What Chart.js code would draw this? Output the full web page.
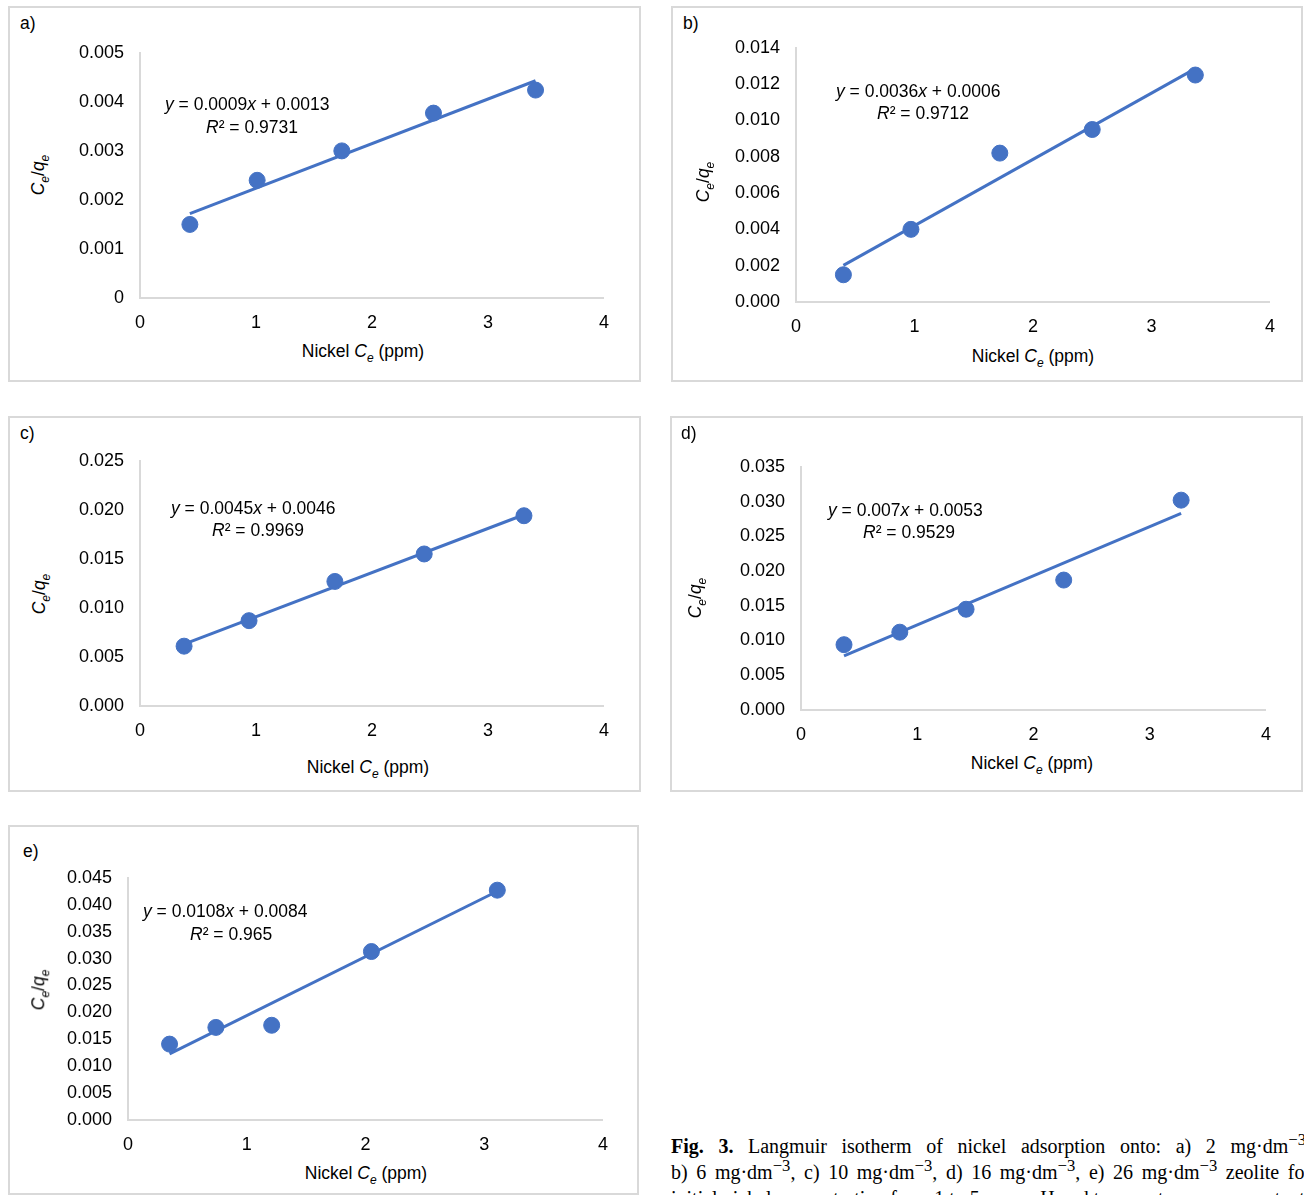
<!DOCTYPE html>
<html><head><meta charset="utf-8">
<script src="https://cdn.jsdelivr.net/npm/chart.js@4/dist/chart.umd.min.js"></script>
<style>
body{margin:0;background:#fff;font-family:"Liberation Sans",Arial,sans-serif;color:#000;overflow:hidden;}
.box{position:absolute;border:2px solid #d9d9d9;box-sizing:border-box;}
.t{position:absolute;font-size:17.5px;white-space:nowrap;}
canvas{position:absolute;}
.cap{position:absolute;left:671px;top:1133px;width:640px;font-family:"Liberation Serif",serif;font-size:20px;line-height:26px;text-align:justify;}
.nb{white-space:nowrap;}
</style></head><body>
<script>
const labels=["a)","b)","c)","d)","e)"];
const xA=[0.43,1.01,1.74,2.53,3.41], yA=[0.0015,0.0024,0.0030,0.00377,0.00424];
const xB=[0.40,0.97,1.72,2.50,3.37], yB=[0.0015,0.0040,0.0082,0.0095,0.0125];
const xC=[0.38,0.94,1.68,2.45,3.31], yC=[0.0061,0.0087,0.0127,0.0155,0.0194];
const xD=[0.37,0.85,1.42,2.26,3.27], yD=[0.0094,0.0112,0.0145,0.0187,0.0302];
const xE=[0.35,0.74,1.21,2.05,3.11], yE=[0.0141,0.0172,0.0176,0.0313,0.0427];
const trendA=[0.00172,0.00443], trendB=[0.00202,0.01285], trendC=[0.0063,0.0195], trendD=[0.0078,0.0283], trendE=[0.0123,0.0425];
const eqs=["0.0009x + 0.0013","0.0036x + 0.0006","0.0045x + 0.0046","0.007x + 0.0053","0.0108x + 0.0084"];
const r2=["0.9731","0.9712","0.9969","0.9529","0.965"];
const yMax=[0.005,0.014,0.025,0.035,0.045], yStep=[0.001,0.002,0.005,0.005,0.005];
const xs=[xA,xB,xC,xD,xE], ys=[yA,yB,yC,yD,yE], trends=[trendA,trendB,trendC,trendD,trendE];
const L=[
 {box:[8,6,641,382],plot:[140,604,51,298],lab:[20,13],eq:[165,94],r:[206,117],xt:[363,353],yt:[40,175]},
 {box:[671,6,1303,382],plot:[796,1270,46,302],lab:[683,13],eq:[836,81],r:[877,103],xt:[1033,358],yt:[705,182]},
 {box:[8,416,641,792],plot:[140,604,459,706],lab:[20,423],eq:[171,498],r:[212,520],xt:[368,769],yt:[41,594]},
 {box:[670,416,1303,792],plot:[801,1266,465,710],lab:[681,423],eq:[828,500],r:[863,522],xt:[1032,765],yt:[697,598]},
 {box:[8,825,639,1195],plot:[128,603,876,1120],lab:[23,841],eq:[143,901],r:[190,924],xt:[366,1175],yt:[40,990]}
];
const col="#4472C4";
function el(tag,cls,html,css){const e=document.createElement(tag);if(cls)e.className=cls;e.innerHTML=html;Object.assign(e.style,css);document.body.appendChild(e);return e;}
L.forEach((p,i)=>{
 const [bl,bt,br,bb]=p.box;
 el("div","box","",{left:bl+"px",top:bt+"px",width:(br-bl)+"px",height:(bb-bt)+"px"});
 const YW=70, XH=36;
 const [x0,x4,yt,y0]=p.plot;
 const cv=document.createElement("canvas");
 const cl=x0-YW-10, ct=yt-25, cw=x4-cl+19, ch=y0-ct+XH+2;
 cv.style.left=cl+"px";cv.style.top=ct+"px";cv.style.width=cw+"px";cv.style.height=ch+"px";
 cv.width=cw;cv.height=ch;
 document.body.appendChild(cv);
 const dec=i===0?null:3;
 new Chart(cv,{type:"scatter",data:{datasets:[
  {type:"line",data:[{x:xs[i][0],y:trends[i][0]},{x:xs[i][4],y:trends[i][1]}],borderColor:col,borderWidth:3,pointRadius:0,order:2},
  {data:xs[i].map((x,k)=>({x:x,y:ys[i][k]})),backgroundColor:col,borderColor:col,pointRadius:8,order:1}
 ]},options:{responsive:false,animation:false,events:[],
  layout:{padding:{left:10,top:12,right:14,bottom:2}},
  plugins:{legend:{display:false},tooltip:{enabled:false}},
  scales:{
   x:{type:"linear",min:0,max:4,afterFit:s=>{s.height=XH;},grid:{display:false,drawTicks:false},border:{color:"#d9d9d9",width:2},
      ticks:{stepSize:1,color:"#000",font:{family:"Liberation Sans",size:18},padding:14}},
   y:{min:0,max:yMax[i],afterFit:s=>{s.width=YW;},grid:{display:false,drawTicks:false},border:{color:"#d9d9d9",width:2},
      ticks:{stepSize:yStep[i],color:"#000",font:{family:"Liberation Sans",size:18},padding:16,
        callback:v=>dec?(+v).toFixed(3):String(+(+v).toFixed(4))}}
  }}});
 el("div","t",labels[i],{left:p.lab[0]+"px",top:p.lab[1]+"px"});
 el("div","t","<i>y</i> = "+eqs[i].replace("x","<i>x</i>"),{left:p.eq[0]+"px",top:p.eq[1]+"px"});
 el("div","t","<i>R</i>² = "+r2[i],{left:p.r[0]+"px",top:p.r[1]+"px"});
 el("div","t","Nickel <i>C<sub style='font-size:12px'>e</sub></i> (ppm)",{left:p.xt[0]+"px",top:p.xt[1]+"px",transform:"translate(-50%,-50%)"});
 el("div","t","<i>C<sub style='font-size:12px'>e</sub></i>/<i>q<sub style='font-size:12px'>e</sub></i>",{left:p.yt[0]+"px",top:p.yt[1]+"px",transform:"translate(-50%,-50%) rotate(-90deg)"});
});
const u=s=>"<span class='nb'>"+s+" mg·dm<sup style='line-height:0'>−3</sup></span>";
el("div","cap","<b>Fig. 3.</b> Langmuir isotherm of nickel adsorption onto: "+u("a) 2")+", "+u("b) 6")+", "+u("c) 10")+", "+u("d) 16")+", "+u("e) 26")+" zeolite for initial nickel concentration from 1 to 5 ppm, pH and temperature were constant",{});
</script>
</body></html>
